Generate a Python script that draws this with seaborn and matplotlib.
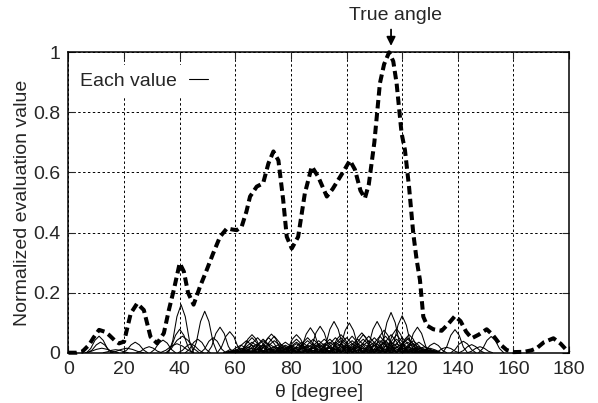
import pandas as pd
import numpy as np
import seaborn as sns
import matplotlib.pyplot as plt
from matplotlib.lines import Line2D

# summed (normalized) evaluation value
sum_theta = [0, 3, 5, 7.4, 9, 11, 13, 14.6, 16.5, 18.2, 20, 22.4, 24.7, 27.1, 29.5, 31.9,
             34.3, 36.1, 37.9, 40, 41.5, 43, 45, 47.3, 49.7, 52, 54.5, 57, 59, 60.5,
             62.3, 64, 65.3, 67.7, 70, 71.9, 73.7, 75.5, 77.2, 78.5, 80.3, 82.6, 85,
             87.5, 89.8, 92.9, 95, 97, 99, 101.2, 103, 105, 106.6, 108, 110, 112, 113.5,
             115.3, 116.8, 118, 119.8, 121, 122.5, 124, 125.2, 126.4, 127.6, 129, 131.2,
             134.2, 136.5, 139, 141, 143, 145, 147.5, 150.4, 152.5, 155, 157.6, 160,
             164, 166.5, 168.4, 171, 174.4, 177, 180]
sum_value = [0, 0, 0.004, 0.026, 0.05, 0.076, 0.07, 0.059, 0.042, 0.031, 0.037, 0.131,
             0.164, 0.142, 0.053, 0.031, 0.065, 0.142, 0.21, 0.298, 0.27, 0.2, 0.16,
             0.22, 0.275, 0.33, 0.386, 0.414, 0.41, 0.408, 0.42, 0.47, 0.52, 0.553,
             0.564, 0.63, 0.67, 0.64, 0.51, 0.386, 0.347, 0.386, 0.53, 0.62, 0.586,
             0.52, 0.545, 0.575, 0.605, 0.64, 0.61, 0.54, 0.514, 0.56, 0.70, 0.897,
             0.96, 1.0, 0.97, 0.897, 0.73, 0.675, 0.55, 0.397, 0.31, 0.242, 0.12,
             0.09, 0.078, 0.073, 0.095, 0.122, 0.105, 0.07, 0.048, 0.06, 0.078, 0.06,
             0.03, 0.009, 0.002, 0.003, 0.008, 0.015, 0.035, 0.048, 0.03, 0]

# separate lobes of the individual evaluation values
lobe_x = [
    [6.5, 8, 9.5, 11, 12.5, 14, 15.5],
    [7, 8.5, 10, 11.5, 13, 14.5, 16],
    [6, 8, 10, 12, 14, 16, 18],
    [12.5, 14, 15.5, 17, 18.5, 20, 21.5],
    [15, 17, 19, 21, 23, 25, 27],
    [19.5, 21, 22.5, 24, 25.5, 27, 28.5],
    [24.5, 26, 27.5, 29, 30.5, 32, 33.5],
    [29.5, 31, 32.5, 34, 35.5, 37, 38.5],
    [36, 37.5, 39, 40.5, 42, 43.5, 45],
    [35.5, 37, 38.5, 40, 41.5, 43, 44.5],
    [35, 37, 39, 41, 43, 45, 47],
    [33, 35, 37, 39, 41, 43, 45],
    [39.5, 41, 42.5, 44, 45.5, 47, 48.5],
    [42, 43.5, 45, 46.5, 48, 49.5, 51],
    [44.5, 46, 47.5, 49, 50.5, 52, 53.5],
    [47.5, 49, 50.5, 52, 53.5, 55, 56.5],
    [50, 51.5, 53, 54.5, 56, 57.5, 59],
    [53.5, 55, 56.5, 58, 59.5, 61, 62.5],
    [61.5, 63, 64.5, 66, 67.5, 69, 70.5],
    [68.5, 70, 71.5, 73, 74.5, 76, 77.5],
    [77.5, 79, 80.5, 82, 83.5, 85, 86.5],
    [82.5, 84, 85.5, 87, 88.5, 90, 91.5],
    [86, 87.5, 89, 90.5, 92, 93.5, 95],
    [91, 92.5, 94, 95.5, 97, 98.5, 100],
    [93.5, 95, 96.5, 98, 99.5, 101, 102.5],
    [96.5, 98, 99.5, 101, 102.5, 104, 105.5],
    [101, 102.5, 104, 105.5, 107, 108.5, 110],
    [106.5, 108, 109.5, 111, 112.5, 114, 115.5],
    [109, 110.5, 112, 113.5, 115, 116.5, 118],
    [111.5, 113, 114.5, 116, 117.5, 119, 120.5],
    [113.5, 115, 116.5, 118, 119.5, 121, 122.5],
    [115.5, 117, 118.5, 120, 121.5, 123, 124.5],
    [118, 119.5, 121, 122.5, 124, 125.5, 127],
    [121, 122.5, 124, 125.5, 127, 128.5, 130],
    [127, 128.5, 130, 131.5, 133, 134.5, 136],
    [131.5, 133, 134.5, 136, 137.5, 139, 140.5],
    [134.5, 136, 137.5, 139, 140.5, 142, 143.5],
    [137.5, 139, 140.5, 142, 143.5, 145, 146.5],
    [140.5, 142, 143.5, 145, 146.5, 148, 149.5],
    [143.5, 145, 146.5, 148, 149.5, 151, 152.5],
    [147.5, 149, 150.5, 152, 153.5, 155, 156.5],
]
lobe_y = [
    [0, .014, .041, .055, .041, .014, 0],
    [0, .009, .026, .035, .026, .009, 0],
    [0, .004, .011, .015, .011, .004, 0],
    [0, .003, .008, .010, .008, .003, 0],
    [0, .004, .011, .015, .011, .004, 0],
    [0, .009, .026, .035, .026, .009, 0],
    [0, .005, .015, .020, .015, .005, 0],
    [0, .011, .032, .042, .032, .011, 0],
    [0, .040, .120, .160, .120, .040, 0],
    [0, .020, .058, .078, .058, .020, 0],
    [0, .014, .041, .055, .041, .014, 0],
    [0, .008, .022, .030, .022, .008, 0],
    [0, .008, .022, .030, .022, .008, 0],
    [0, .011, .034, .045, .034, .011, 0],
    [0, .035, .104, .138, .104, .035, 0],
    [0, .013, .038, .050, .038, .013, 0],
    [0, .021, .064, .085, .064, .021, 0],
    [0, .018, .053, .070, .053, .018, 0],
    [0, .015, .045, .060, .045, .015, 0],
    [0, .016, .047, .062, .047, .016, 0],
    [0, .015, .045, .060, .045, .015, 0],
    [0, .021, .062, .083, .062, .021, 0],
    [0, .022, .066, .088, .066, .022, 0],
    [0, .026, .078, .104, .078, .026, 0],
    [0, .015, .045, .060, .045, .015, 0],
    [0, .025, .074, .099, .074, .025, 0],
    [0, .017, .050, .066, .050, .017, 0],
    [0, .026, .078, .104, .078, .026, 0],
    [0, .019, .056, .075, .056, .019, 0],
    [0, .034, .100, .134, .100, .034, 0],
    [0, .020, .060, .080, .060, .020, 0],
    [0, .031, .092, .123, .092, .031, 0],
    [0, .015, .045, .060, .045, .015, 0],
    [0, .021, .064, .085, .064, .021, 0],
    [0, .008, .024, .032, .024, .008, 0],
    [0, .005, .014, .018, .014, .005, 0],
    [0, .019, .058, .077, .058, .019, 0],
    [0, .010, .029, .038, .029, .010, 0],
    [0, .007, .020, .027, .020, .007, 0],
    [0, .005, .015, .020, .015, .005, 0],
    [0, .014, .041, .054, .041, .014, 0],
]

# dense low band of evaluation values, sampled every 2 degrees from 56 to 134
band_theta = list(range(56, 136, 2))
band_y = [
    [0, 0, 0, .012, .02, .012, 0, .018, .03, .018, 0, .015, .025, .015, 0, .018, .03, .018, 0, .021,
     .035, .021, 0, .018, .03, .018, 0, .024, .04, .024, 0, .018, .03, .018, 0, .006, .01, .006, 0, 0],
    [0, 0, 0, .005, .008, .005, 0, .007, .012, .007, 0, .006, .01, .006, 0, .009, .015, .009, 0, .007,
     .012, .007, 0, .012, .02, .012, 0, .011, .018, .011, 0, .009, .015, .009, 0, .004, .006, .004, 0, 0],
    [0, .01, .006, 0, .021, .035, .021, 0, .024, .04, .024, 0, .018, .03, .018, 0, .015, .025, .015, 0,
     .018, .03, .018, 0, .027, .045, .027, 0, .024, .04, .024, 0, .021, .035, .021, 0, .005, .008, .005, 0],
    [0, 0, 0, 0, .009, .015, .009, 0, .006, .01, .006, 0, .011, .018, .011, 0, .007, .012, .007, 0,
     .012, .02, .012, 0, .009, .015, .009, 0, .013, .022, .013, 0, .012, .02, .012, 0, .003, .005, .003, 0],
    [0, .004, .006, .004, 0, .018, .03, .018, 0, .012, .02, .012, 0, .021, .035, .021, 0, .018, .03, .018,
     0, .015, .025, .015, 0, .024, .04, .024, 0, .021, .035, .021, 0, .018, .03, .018, 0, .003, .005, 0],
    [0, 0, 0, 0, 0, .007, .012, .007, 0, .005, .008, .005, 0, .009, .015, .009, 0, .006, .01, .006,
     0, .011, .018, .011, 0, .007, .012, .007, 0, .012, .02, .012, 0, .009, .015, .009, 0, 0, 0, 0],
    [0, 0, .009, .015, .009, 0, .027, .045, .027, 0, .015, .025, .015, 0, .024, .04, .024, 0, .021, .035,
     .021, 0, .018, .03, .018, 0, .021, .035, .021, 0, .027, .045, .027, 0, .012, .02, .012, 0, 0, 0],
    [0, 0, .003, .005, .003, 0, .011, .018, .011, 0, .007, .012, .007, 0, .006, .01, .006, 0, .009, .015,
     .009, 0, .012, .02, .012, 0, .007, .012, .007, 0, .011, .018, .011, 0, .006, .01, .006, 0, 0, 0],
    [0, 0, 0, .024, .04, .024, 0, .03, .05, .03, 0, .012, .02, .012, 0, .027, .045, .027, 0, .03,
     .05, .03, 0, .027, .045, .027, 0, .033, .055, .033, 0, .03, .05, .03, 0, .012, .02, .012, 0, 0],
    [0, 0, 0, 0, 0, .03, .05, .03, 0, .018, .03, .018, 0, .015, .025, .015, 0, .027, .045, .027,
     0, .03, .05, .03, 0, .033, .055, .033, 0, .036, .06, .036, 0, .024, .04, .024, 0, 0, 0, 0],
    [0, .005, .003, 0, .03, .05, .03, 0, .033, .055, .033, 0, .027, .045, .027, 0, .024, .04, .024, 0,
     .03, .05, .03, 0, .036, .06, .036, 0, .033, .055, .033, 0, .03, .05, .03, 0, .009, .015, .009, 0],
    [0, 0, .015, .025, .015, 0, .024, .04, .024, 0, .021, .035, .021, 0, .03, .05, .03, 0, .027, .045,
     .027, 0, .033, .055, .033, 0, .03, .05, .03, 0, .036, .06, .036, 0, .021, .035, .021, 0, 0, 0],
    [0, 0, 0, .002, .004, .002, 0, .004, .006, .004, 0, .003, .005, .003, 0, .004, .007, .004, 0, .004,
     .006, .004, 0, .005, .008, .005, 0, .004, .007, .004, 0, .004, .006, .004, 0, .002, .003, .002, 0, 0],
    [0, 0, 0, 0, 0, .003, .005, .003, 0, .002, .004, .002, 0, .004, .006, .004, 0, .003, .005, .003,
     0, .004, .007, .004, 0, .004, .006, .004, 0, .005, .008, .005, 0, .003, .005, .003, 0, 0, 0, 0],
    [0, 0, 0, 0, .015, .025, .015, 0, .012, .02, .012, 0, .021, .035, .021, 0, .018, .03, .018, 0,
     .024, .04, .024, 0, .018, .03, .018, 0, .021, .035, .021, 0, .027, .045, .027, 0, .006, .01, .006, 0],
    [0, 0, .006, .01, .006, 0, .015, .025, .015, 0, .012, .02, .012, 0, .015, .025, .015, 0, .012, .02,
     .012, 0, .024, .04, .024, 0, .015, .025, .015, 0, .018, .03, .018, 0, .009, .015, .009, 0, 0, 0],
]

x_ticks = [0, 20, 40, 60, 80, 100, 120, 140, 160, 180]
y_ticks = [0, 0.2, 0.4, 0.6, 0.8, 1.0]
y_tick_labels = ['0', '0.2', '0.4', '0.6', '0.8', '1']
true_angle = 116.0

# long form table of all thin curves
rows = []
for i, (xs, ys) in enumerate(zip(lobe_x, lobe_y)):
    for x, y in zip(xs, ys):
        rows.append(('lobe%d' % i, x, y))
for i, ys in enumerate(band_y):
    for x, y in zip(band_theta, ys):
        rows.append(('band%d' % i, x, y))
thin_df = pd.DataFrame(rows, columns=['curve', 'theta', 'value'])
sum_df = pd.DataFrame({'theta': sum_theta, 'value': sum_value})

sns.set_style('ticks')
plt.rcParams['font.family'] = ['Liberation Sans', 'DejaVu Sans']
plt.rcParams['font.size'] = 14

fig = plt.figure(figsize=(5.98, 4.03), dpi=100)
ax = fig.add_axes([0.1145, 0.1248, 0.837, 0.7454])

sns.lineplot(data=thin_df, x='theta', y='value', units='curve', estimator=None,
             color='black', linewidth=0.75, legend=False, ax=ax)
sns.lineplot(data=sum_df, x='theta', y='value', color='black', linewidth=2.9,
             linestyle=(0, (2.1, 1.1)), clip_on=False, ax=ax)

ax.set_xlim(0, 180)
ax.set_ylim(0, 1)
ax.set_xticks(x_ticks)
ax.set_yticks(y_ticks)
ax.set_yticklabels(y_tick_labels)
ax.grid(True, color='black', linestyle=(0, (2.5, 2.5)), linewidth=0.7)
ax.tick_params(direction='in', length=5, width=0.8, top=True, right=True,
               labelsize=14, pad=6)
for s in ax.spines.values():
    s.set_linewidth(1.1)
    s.set_color('black')

ax.set_xlabel('θ [degree]', fontsize=14, labelpad=4)
ax.set_ylabel('Normalized evaluation value', fontsize=14, labelpad=1)

handle = Line2D([], [], color='black', linewidth=0.8)
ax.legend([handle], ['Each value'], loc='upper left', bbox_to_anchor=(0.0, 0.973),
          markerfirst=False, frameon=True, fancybox=False, edgecolor='none',
          facecolor='white', framealpha=1, handlelength=1.0, handletextpad=0.6,
          fontsize=14, borderpad=0.35, borderaxespad=0.25)

ax.annotate('', xy=(true_angle, 1.012), xytext=(true_angle, 1.085),
            arrowprops=dict(arrowstyle='-|>', color='black', lw=1.3, mutation_scale=13),
            annotation_clip=False)
ax.text(true_angle + 1.5, 1.122, 'True angle', ha='center', va='center', fontsize=14)

fig.savefig('out.png', dpi=100)
